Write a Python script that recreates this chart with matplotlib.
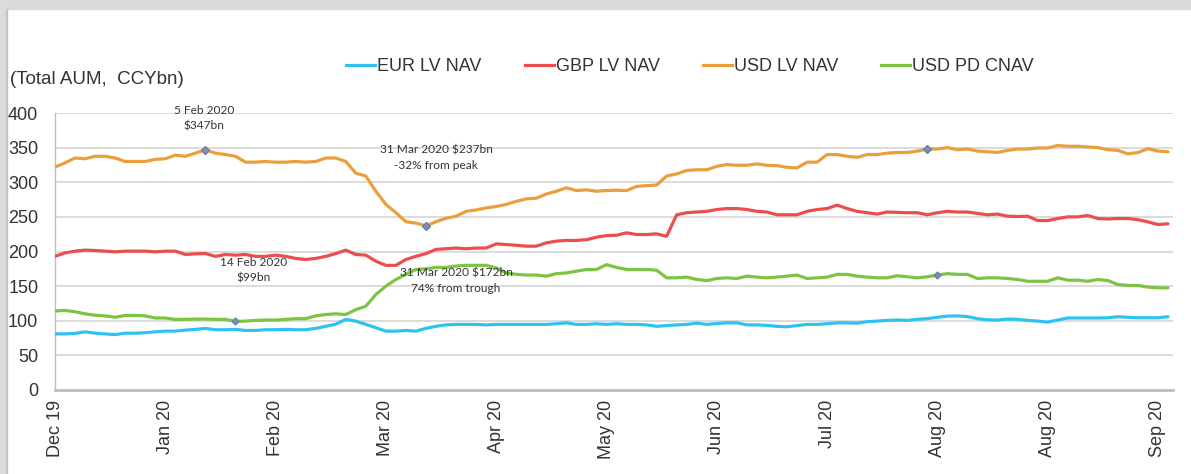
import numpy as np
import matplotlib
matplotlib.use("Agg")
import matplotlib.pyplot as plt
from matplotlib.patches import Rectangle
from matplotlib.lines import Line2D

# ---------------- data (values every 2 business days) ----------------
tick_labels = ["Dec 19", "Jan 20", "Feb 20", "Mar 20", "Apr 20", "May 20",
               "Jun 20", "Jul 20", "Aug 20", "Aug 20", "Sep 20"]

series_names = ["EUR LV NAV", "GBP LV NAV", "USD LV NAV", "USD PD CNAV"]

eur_lv = [81, 81, 81.7, 84, 82, 81, 80, 82, 82, 82.7,
          84, 85, 85, 86.5, 87.5, 89, 87, 87, 87.5, 86,
          86, 87, 87, 87.5, 87, 87, 89, 92, 95, 102,
          99.5, 94.7, 90, 85, 85, 86, 85, 89, 92, 94,
          94.7, 94.7, 94.7, 94, 94.7, 94.7, 94.7, 94.7, 94.7, 94.7,
          95.7, 97, 94.7, 94.7, 95.7, 94.7, 95.7, 94.7, 94.7, 94,
          92, 93, 94, 94.7, 96.6, 94.7, 96, 97, 97, 94,
          94, 93.3, 92, 91.3, 93, 94.7, 94.7, 95.7, 97, 97,
          96.6, 98.6, 99.5, 100.5, 101, 100.5, 102, 103, 105, 106.7,
          107, 106, 103, 101.4, 101, 102.4, 102, 100.5, 99.5, 98,
          101, 104, 104, 104, 104, 104.3, 105.8, 105, 104.3, 104.3,
          104.3, 105.8]

gbp_lv = [193, 198, 200.5, 202, 201.4, 200.5, 199.5, 200.5, 200.5, 200.5,
          199.5, 200.5, 200.5, 195.7, 196.6, 197, 193, 195.7, 194.7, 195.7,
          193, 193, 194.7, 193, 190, 188.5, 190, 193, 197, 202,
          195.7, 194.7, 186, 180, 180, 188.5, 193, 197, 203, 204,
          205, 204, 205, 205, 211, 210, 209, 207.7, 207.7, 212.5,
          215, 216, 216, 217, 220.7, 223, 223.5, 227, 224.5, 224.5,
          225.5, 222, 253, 256, 257, 258, 260.6, 262, 262, 260.6,
          258, 257, 253, 253, 253, 258, 260.6, 262, 267, 262,
          258, 256, 254, 257, 256.5, 256, 256, 253, 256, 258,
          257, 257, 255, 253, 254, 251, 250.5, 251, 244.7, 244.7,
          247.6, 250, 250, 252, 247.6, 247, 247.6, 247.6, 246, 242.8,
          239, 240]

usd_lv = [322, 328, 335, 334, 337.5, 337.5, 335, 330, 330, 330,
          333, 334, 339, 337.5, 342, 347, 342, 340, 337.5, 329,
          329, 330, 329, 329, 330, 329, 330, 335, 335, 330,
          313, 309, 287, 268, 256, 243, 241, 237, 243, 248,
          251, 258, 260, 263, 265, 268, 272.5, 276, 277, 283,
          287, 292, 288, 289, 287, 288, 288.5, 288, 294, 295,
          296, 309, 312, 317, 318, 318, 323, 325.5, 324.5, 324.5,
          326.5, 324.5, 324, 321.6, 320.7, 329, 329, 340, 340, 337.5,
          336, 340, 340, 342, 343, 343, 345, 348, 348, 350,
          347, 348, 345, 344, 343, 346, 348, 348, 349.5, 349.5,
          353, 352, 352, 351, 350, 347, 346, 341, 343, 348.5,
          345, 344]

usd_pd = [114, 115, 113, 110, 108, 107, 105, 107.7, 107.7, 107,
          104, 104, 102, 102, 102.4, 102.4, 102, 102, 99, 99.5,
          100.5, 101, 101, 102, 103, 103, 107, 109, 110, 109,
          116, 121, 138, 150, 159.6, 167, 174, 175, 177, 177,
          179, 180, 180, 180, 176.4, 169, 167, 166, 166, 164.4,
          168, 169, 171.6, 174, 174, 181, 177, 174, 174, 174,
          173, 162, 162, 163, 159.6, 158, 161, 162, 161, 164.4,
          163, 162, 163, 164.4, 166, 161, 162, 163, 167, 167,
          164.4, 163, 162, 162, 165, 163.5, 162, 163.5, 166, 168,
          167, 167, 161, 162, 162, 161, 159.6, 157, 157, 157,
          162, 158.6, 158.6, 157, 159.6, 158, 152.4, 151, 151, 148.6,
          147.6, 147.6]

# highlighted points (sample indices)
usd_lv_marks = [15, 37, 87]
usd_pd_marks = [18, 88]

annotations = [
    ("5 Feb 2020\n$347bn", 29.7, 393),
    ("31 Mar 2020 $237bn\n-32% from peak", 76, 336),
    ("14 Feb 2020\n$99bn", 39.7, 173),
    ("31 Mar 2020 $172bn\n74% from trough", 80, 158),
]

# ---------------- figure ----------------
colors = ["#2EC2F2", "#EB4E4C", "#E9A03C", "#7CC444"]
all_series = [eur_lv, gbp_lv, usd_lv, usd_pd]

W, H = 1191, 474
fig = plt.figure(figsize=(W / 100, H / 100), dpi=100)
fig.patch.set_facecolor("white")
fig.patches.append(Rectangle((0, 1 - 9 / H), 1, 9 / H, transform=fig.transFigure,
                             color="#d9d9d9", zorder=0))
fig.patches.append(Rectangle((0, 0), 6 / W, 1, transform=fig.transFigure,
                             color="#dcdcdc", zorder=0))
fig.patches.append(Rectangle((6 / W, 0), 1.2 / W, 1 - 9 / H, transform=fig.transFigure,
                             color="#c4c4c4", zorder=0))

ax = fig.add_axes([55 / W, 1 - 390 / H, (1173 - 55) / W, (390 - 113) / H])

n = len(usd_lv)
x = np.arange(n) * 2  # business-day index

for vals, c, name in zip(all_series, colors, series_names):
    ax.plot(x, vals, color=c, lw=2.3, label=name, solid_capstyle="round", zorder=3)

usd_lv_arr = np.array(usd_lv)
usd_pd_arr = np.array(usd_pd)
ax.plot(x[usd_lv_marks], usd_lv_arr[usd_lv_marks], "D", ms=4, color="#7f90b0",
        mec="#6a7fa8", zorder=4)
ax.plot(x[usd_pd_marks], usd_pd_arr[usd_pd_marks], "D", ms=3.5, color="#8090b0",
        mec="#6a7fa8", zorder=4)

ax.set_xlim(0, 223)
ax.set_ylim(0, 400)
ax.set_yticks(np.arange(0, 401, 50))
ax.set_xticks(np.arange(len(tick_labels)) * 22)
ax.set_xticklabels(tick_labels, rotation=90, fontsize=13,
                   family="Liberation Sans", color="#333333")
for lab in ax.get_yticklabels():
    lab.set_fontsize(13)
    lab.set_family("Liberation Sans")
    lab.set_color("#333333")
ax.tick_params(axis="both", length=0)
ax.tick_params(axis="y", pad=12)
ax.tick_params(axis="x", pad=7)

ax.grid(axis="y", color="#d9d9d9", lw=1.3, zorder=0)
ax.set_axisbelow(True)
for s in ["top", "right"]:
    ax.spines[s].set_visible(False)
ax.spines["left"].set_color("#bfbfbf")
ax.spines["left"].set_linewidth(1.0)
ax.spines["bottom"].set_color("#bfbfbf")
ax.spines["bottom"].set_linewidth(2.0)

for txt, xd, yd in annotations:
    ax.text(xd, yd, txt, ha="center", va="center", fontsize=8.6,
            family="Lato", color="#333333", linespacing=1.5, zorder=5)

fig.text(10 / W, 1 - 80 / H, "(Total AUM,  CCYbn)", fontsize=13.5,
         family="Liberation Sans", color="#333333", va="center", ha="left")

handles = [Line2D([0], [0], color=c, lw=2.3) for c in colors]
leg = fig.legend(handles, series_names, loc="center", ncol=4,
                 bbox_to_anchor=(690 / W, 1 - 67 / H), frameon=False,
                 handlelength=1.6, handletextpad=0.1, columnspacing=2.4,
                 prop={"family": "Liberation Sans", "size": 13})
for t in leg.get_texts():
    t.set_color("#333333")

fig.savefig("out.png", dpi=100)
